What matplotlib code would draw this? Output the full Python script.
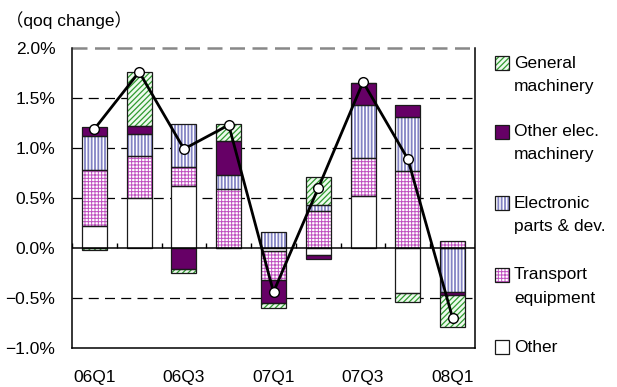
import numpy as np
import matplotlib
matplotlib.use("Agg")
from matplotlib import pyplot as plt
from matplotlib.patches import Rectangle

plt.rcParams['font.family'] = ['Liberation Sans', 'Noto Sans CJK JP', 'DejaVu Sans']
plt.rcParams['font.size'] = 12.5

quarters = ['06Q1', '06Q2', '06Q3', '06Q4', '07Q1', '07Q2', '07Q3', '07Q4', '08Q1']
tick_labels = ['06Q1', '', '06Q3', '', '07Q1', '', '07Q3', '', '08Q1']

# contributions to qoq change (%)
other = [0.22, 0.50, 0.62, 0.00, -0.03, -0.07, 0.52, -0.45, 0.00]
transport = [0.56, 0.42, 0.19, 0.59, -0.29, 0.37, 0.38, 0.77, 0.07]
electronic = [0.34, 0.22, 0.43, 0.14, 0.16, 0.06, 0.53, 0.54, -0.44]
other_elec = [0.09, 0.08, -0.21, 0.34, -0.23, -0.04, 0.22, 0.12, -0.03]
general = [-0.02, 0.54, -0.04, 0.17, -0.05, 0.28, 0.00, -0.09, -0.32]
total = [1.19, 1.76, 0.99, 1.23, -0.44, 0.60, 1.66, 0.89, -0.70]

# name, values, fill, hatch, hatch colour, hatch width  (bottom to top)
series = [
    ('Other', other, 'white', '', 'white', 1.0),
    ('Transport\nequipment', transport, 'white', '+++++', '#c050c0', 0.7),
    ('Electronic\nparts & dev.', electronic, 'white', '|||||', '#8484c4', 1.3),
    ('Other elec.\nmachinery', other_elec, '#660066', '', '#660066', 1.0),
    ('General\nmachinery', general, '#eefaee', '//////', '#2f9a2f', 0.9),
]

fig = plt.figure(figsize=(6.17, 3.87), dpi=100)
W, H = 617, 387
ax = fig.add_axes([72 / W, 39 / H, 403 / W, 300 / H])

x = np.arange(len(quarters))
width = 0.56
pos_base = np.zeros(len(x))
neg_base = np.zeros(len(x))
for name, vals, fc, hatch, hc, hlw in series:
    vals = np.array(vals)
    bottoms = np.where(vals >= 0, pos_base, neg_base)
    with plt.rc_context({'hatch.linewidth': hlw}):
        ax.bar(x, vals, width, bottom=bottoms, color=fc, edgecolor=hc,
               hatch=hatch, linewidth=0, zorder=2)
    ax.bar(x, vals, width, bottom=bottoms, fill=False, edgecolor='#1a1a1a',
           linewidth=0.9, zorder=2.5)
    pos_base += np.where(vals > 0, vals, 0)
    neg_base += np.where(vals < 0, vals, 0)

# gridlines
for v in [-0.5, 0.5, 1.0, 1.5]:
    ax.axhline(v, color='black', lw=0.9, ls=(0, (8, 5)), zorder=0)
ax.axhline(2.0, color='#888888', lw=1.8, ls=(0, (6, 3)), zorder=0, clip_on=False)

# zero line with category ticks
ax.axhline(0, color='black', lw=1.1, zorder=3)
ax.vlines(np.arange(-0.5, len(x)), 0, 0.05, color='black', lw=1, zorder=3)

ax.plot(x, total, color='black', lw=2, marker='o', ms=7, mfc='white',
        mec='black', mew=1, zorder=5)

ax.set_xlim(-0.5, len(x) - 0.5)
ax.set_ylim(-1.0, 2.0)
ax.set_xticks(x)
ax.set_xticklabels(tick_labels)
yticks = [-1.0, -0.5, 0.0, 0.5, 1.0, 1.5, 2.0]
ax.set_yticks(yticks)
ax.set_yticklabels([f'{v:.1f}%'.replace('-', '\u2212') for v in yticks])
ax.tick_params(axis='x', length=0, pad=16)
ax.tick_params(axis='y', length=0, pad=12)
ax.spines['top'].set_visible(False)
for s in ['left', 'right', 'bottom']:
    ax.spines[s].set_linewidth(1.1)

fig.text(6 / W, 1 - 20 / H, '（qoq change）', va='center', ha='left')

# legend, drawn top to bottom
first_rows = [63, 132, 203, 275, 347]
for (name, vals, fc, hatch, hc, hlw), yc in zip(series[::-1], first_rows):
    with plt.rc_context({'hatch.linewidth': hlw}):
        fig.patches.append(Rectangle((495 / W, 1 - (yc + 7) / H), 14 / W, 14 / H,
                                     transform=fig.transFigure, facecolor=fc,
                                     edgecolor=hc, hatch=hatch, linewidth=0))
    fig.patches.append(Rectangle((495 / W, 1 - (yc + 7) / H), 14 / W, 14 / H,
                                 transform=fig.transFigure, fill=False,
                                 edgecolor='#1a1a1a', linewidth=0.9))
    for k, line in enumerate(name.split('\n')):
        fig.text(514 / W, 1 - (yc + 23 * k) / H, line, va='center', ha='left')

fig.savefig('out.png', dpi=100)
